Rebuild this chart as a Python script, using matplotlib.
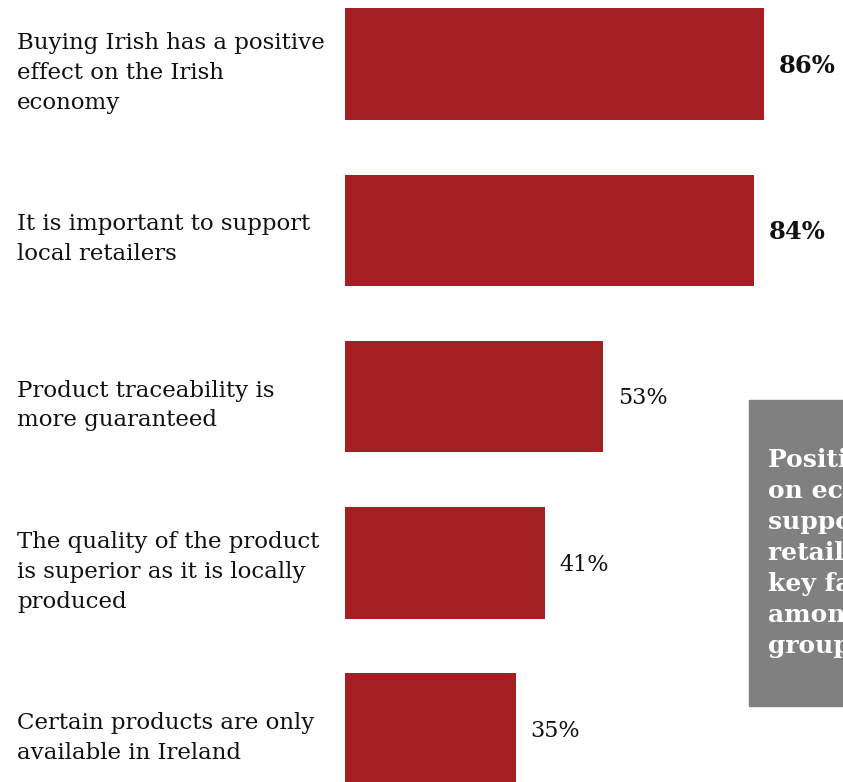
import matplotlib.pyplot as plt
from matplotlib.patches import Rectangle

labels = [
    'Buying Irish has a positive\neffect on the Irish\neconomy',
    'It is important to support\nlocal retailers',
    'Product traceability is\nmore guaranteed',
    'The quality of the product\nis superior as it is locally\nproduced',
    'Certain products are only\navailable in Ireland',
]
values = [86, 84, 53, 41, 35]
bold_top = 2  # first two value labels are set in bold

box_text = 'Positive effect\non economy and\nsupporting local\nretailers are\nkey factors\namong all age\ngroups'

bar_color = '#A31F22'
font = ['DejaVu Serif']

W, H = 843, 782
fig = plt.figure(figsize=(W / 100, H / 100), dpi=100)

# bars start at x=345px, 100% spans ~487px
x0 = 345
scale = 4.872
ax = fig.add_axes([x0 / W, 0, 1 - x0 / W, 1])
ax.set_xlim(0, (W - x0) / scale)
step = 166.3
ax.set_ylim((H - 64) / step, -64 / step)
ax.axis('off')

ypos = list(range(len(values)))
ax.barh(ypos, values, height=0.67, color=bar_color)

for i, (lab, v) in enumerate(zip(labels, values)):
    fig.text(17 / W, 1 - (64 + i * step + 9) / H, lab, ha='left', va='center',
             fontsize=16.5, family=font, linespacing=1.45, color='#111111')
    ax.text(v + 15 / scale, i + 0.01, f'{v}%', ha='left', va='center',
            fontsize=17.5 if i < bold_top else 16,
            fontweight='bold' if i < bold_top else 'normal',
            family=font, color='#111111')

# grey callout box on the right edge
fig.patches.append(Rectangle((749 / W, 1 - 706 / H), 200 / W, 306 / H,
                             transform=fig.transFigure, color='#808080',
                             zorder=0))
fig.text(768 / W, 1 - 553 / H, box_text, ha='left', va='center',
         fontsize=18, fontweight='bold', family=font, color='white',
         linespacing=1.37)

fig.savefig('out.png', dpi=100)
